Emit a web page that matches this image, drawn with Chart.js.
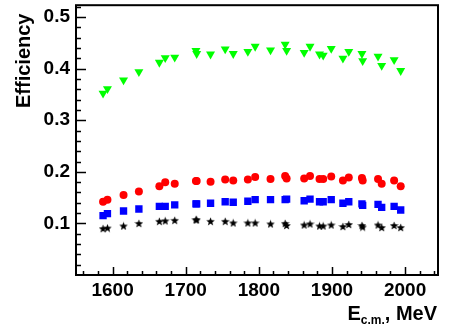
<!DOCTYPE html>
<html>
<head>
<meta charset="utf-8">
<script src="https://cdn.jsdelivr.net/npm/chart.js@4"></script>
<style>
  html, body { margin: 0; padding: 0; background: #fff; }
  #wrap { width: 449px; height: 329px; }
</style>
</head>
<body>
<div id="wrap"><canvas id="chartEff" width="449" height="329"></canvas></div>
<script>
// Eficiencia vs energia c.m. (4 series)

const FONT = "'Liberation Sans', Arial, sans-serif";

// energias (MeV)
const energias = [1587, 1593, 1615, 1636, 1664, 1672, 1685, 1714, 1715, 1734,
                  1754, 1765, 1785, 1795, 1816, 1836, 1838, 1862, 1870, 1883,
                  1888, 1899, 1915, 1923, 1941, 1942, 1963, 1968, 1985, 1994];

// triangulos verdes
const effVerde = [0.352, 0.361, 0.378, 0.394, 0.412, 0.421, 0.422, 0.435, 0.429, 0.428,
                  0.438, 0.429, 0.433, 0.443, 0.436, 0.447, 0.435, 0.431, 0.443, 0.428,
                  0.426, 0.439, 0.420, 0.433, 0.429, 0.415, 0.424, 0.406, 0.417, 0.396];

// circulos rojos
const effRojo = [0.142, 0.146, 0.155, 0.162, 0.172, 0.180, 0.177, 0.182, 0.182, 0.181,
                 0.185, 0.183, 0.185, 0.190, 0.186, 0.192, 0.187, 0.187, 0.192, 0.186,
                 0.186, 0.191, 0.183, 0.189, 0.188, 0.183, 0.186, 0.177, 0.183, 0.172];

// cuadrados azules
const effAzul = [0.115, 0.119, 0.124, 0.128, 0.133, 0.133, 0.136, 0.138, 0.138, 0.139,
                 0.142, 0.141, 0.143, 0.146, 0.146, 0.146, 0.147, 0.144, 0.147, 0.142,
                 0.142, 0.146, 0.139, 0.142, 0.138, 0.135, 0.137, 0.131, 0.133, 0.126];

// estrellas negras
const effNegro = [0.090, 0.091, 0.095, 0.100, 0.104, 0.105, 0.106, 0.107, 0.107, 0.104,
                  0.104, 0.101, 0.101, 0.101, 0.099, 0.100, 0.096, 0.097, 0.099, 0.095,
                  0.095, 0.097, 0.094, 0.098, 0.096, 0.093, 0.097, 0.092, 0.096, 0.092];

// ticks
const xTicks = [1600, 1700, 1800, 1900, 2000];
const yTicks = [0.1, 0.2, 0.3, 0.4, 0.5];
const xRango = [1550, 2045];
const yRango = [0, 0.523];

function puntos(vals) {
    return energias.map((e, i) => ({ x: e, y: vals[i] }));
}

// estrella de 5 puntas como imagen de punto
function crearEstrella(size, color) {
    const c = document.createElement('canvas');
    c.width = size; c.height = size;
    const g = c.getContext('2d');
    const cx = size / 2, cy = size / 2 + 0.4;
    const rOut = size / 2, rIn = size / 2 * 0.42;
    g.beginPath();
    for (let k = 0; k < 10; k++) {
        const r = k % 2 === 0 ? rOut : rIn;
        const a = -Math.PI / 2 + k * Math.PI / 5;
        const px = cx + r * Math.cos(a), py = cy + r * Math.sin(a);
        if (k === 0) g.moveTo(px, py); else g.lineTo(px, py);
    }
    g.closePath();
    g.fillStyle = color;
    g.fill();
    return c;
}

// marco, ticks hacia dentro y titulos
const marcoPlugin = {
    id: 'marco',
    afterDraw(chart) {
        const ctx = chart.ctx;
        const a = chart.chartArea;
        const sx = chart.scales.x, sy = chart.scales.y;
        ctx.save();
        ctx.strokeStyle = '#000';
        ctx.lineWidth = 2;
        ctx.strokeRect(a.left, a.top, a.right - a.left, a.bottom - a.top);

        ctx.lineWidth = 1.5;
        ctx.beginPath();
        for (let v = 1560; v <= xRango[1]; v += 20) {
            const px = Math.round(sx.getPixelForValue(v)) + 0.5;
            const len = (v % 100 === 0) ? 8 : 4;
            ctx.moveTo(px, a.bottom);
            ctx.lineTo(px, a.bottom - len);
        }
        for (let k = 1; k * 0.02 <= yRango[1]; k++) {
            const v = k * 0.02;
            const py = Math.round(sy.getPixelForValue(v)) + 0.5;
            const len = (k % 5 === 0) ? 10 : 5;
            ctx.moveTo(a.left, py);
            ctx.lineTo(a.left + len, py);
        }
        ctx.stroke();

        // titulo eje y
        ctx.fillStyle = '#000';
        ctx.font = 'bold 20px ' + FONT;
        ctx.textAlign = 'left';
        ctx.textBaseline = 'alphabetic';
        ctx.save();
        ctx.translate(30, 108);
        ctx.rotate(-Math.PI / 2);
        ctx.fillText('Efficiency', 0, 0);
        ctx.restore();

        // titulo eje x con subindice
        const fBig = 'bold 20px ' + FONT, fSub = 'bold 12px ' + FONT;
        ctx.font = fBig;
        const wE = ctx.measureText('E').width;
        const wCola = ctx.measureText(', MeV').width;
        ctx.font = fSub;
        const wSub = ctx.measureText('c.m.').width;
        let x0 = 437 - (wE + wSub + wCola);
        const base = 320;
        ctx.font = fBig;
        ctx.fillText('E', x0, base);
        ctx.font = fSub;
        ctx.fillText('c.m.', x0 + wE, base + 4);
        ctx.font = fBig;
        ctx.fillText(', MeV', x0 + wE + wSub, base);
        ctx.restore();
    }
};

const ctx = document.getElementById('chartEff');
new Chart(ctx, {
    type: 'scatter',
    data: {
        datasets: [
            { label: 'verde', data: puntos(effVerde), pointStyle: 'triangle', rotation: 180,
              pointRadius: 5.2, backgroundColor: '#00ff00', borderColor: '#00ff00', borderWidth: 0 },
            { label: 'rojo', data: puntos(effRojo), pointStyle: 'circle',
              pointRadius: 4, backgroundColor: '#ff0000', borderColor: '#ff0000', borderWidth: 0 },
            { label: 'azul', data: puntos(effAzul), pointStyle: 'rect',
              pointRadius: 5.2, backgroundColor: '#0000ff', borderColor: '#0000ff', borderWidth: 0 },
            { label: 'negro', data: puntos(effNegro), pointStyle: crearEstrella(9, '#000'),
              backgroundColor: '#000', borderColor: '#000' }
        ]
    },
    options: {
        responsive: false,
        animation: false,
        events: [],
        layout: { padding: { top: 3, right: 11, left: 0, bottom: 0 } },
        plugins: { legend: { display: false }, tooltip: { enabled: false } },
        scales: {
            x: {
                type: 'linear',
                min: xRango[0],
                max: xRango[1],
                afterBuildTicks: s => { s.ticks = xTicks.map(v => ({ value: v })); },
                afterFit: s => { s.height = 54; s.paddingLeft = 0; s.paddingRight = 0; },
                grid: { display: false, drawTicks: false },
                border: { display: false },
                ticks: {
                    padding: 4,
                    color: '#000',
                    maxRotation: 0,
                    font: { family: FONT, size: 19, weight: 'bold' },
                    callback: v => String(v)
                }
            },
            y: {
                type: 'linear',
                min: yRango[0],
                max: yRango[1],
                afterBuildTicks: s => { s.ticks = yTicks.map(v => ({ value: v })); },
                afterFit: s => { s.width = 76; s.paddingTop = 0; s.paddingBottom = 0; },
                grid: { display: false, drawTicks: false },
                border: { display: false },
                ticks: {
                    padding: 6,
                    color: '#000',
                    font: { family: FONT, size: 19, weight: 'bold' },
                    callback: v => v.toFixed(1)
                }
            }
        }
    },
    plugins: [marcoPlugin]
});
</script>
</body>
</html>
